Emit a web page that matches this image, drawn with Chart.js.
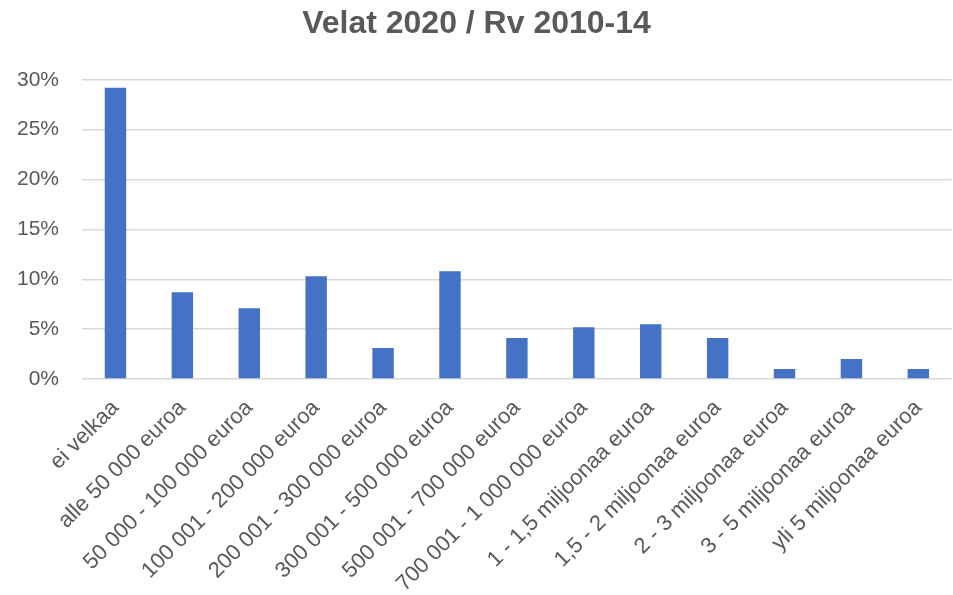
<!DOCTYPE html>
<html>
<head>
<meta charset="utf-8">
<script src="https://cdn.jsdelivr.net/npm/chart.js@4/dist/chart.umd.min.js"></script>
<style>
html,body{margin:0;padding:0;background:#fff;}
#wrap{width:953px;height:595px;position:relative;}
</style>
</head>
<body>
<div id="wrap"><canvas id="c" width="953" height="595"></canvas></div>
<script>
const title = "Velat 2020 / Rv 2010-14";
const categories = [
  "ei velkaa",
  "alle 50 000 euroa",
  "50 000 - 100 000 euroa",
  "100 001 - 200 000 euroa",
  "200 001 - 300 000 euroa",
  "300 001 - 500 000 euroa",
  "500 001 - 700 000 euroa",
  "700 001 - 1 000 000 euroa",
  "1 - 1,5 miljoonaa euroa",
  "1,5 - 2 miljoonaa euroa",
  "2 - 3 miljoonaa euroa",
  "3 - 5 miljoonaa euroa",
  "yli 5 miljoonaa euroa"
];
const shares = [29.2, 8.7, 7.1, 10.3, 3.1, 10.8, 4.1, 5.2, 5.5, 4.1, 1.0, 2.0, 1.0];
const yTicks = [0, 5, 10, 15, 20, 25, 30];

const textColor = "#595959";
const font = "'Liberation Sans', Arial, sans-serif";

new Chart(document.getElementById("c"), {
  type: "bar",
  data: {
    labels: categories,
    datasets: [{
      data: shares,
      backgroundColor: "#4472C4",
      borderWidth: 0,
      categoryPercentage: 1.0,
      barPercentage: 0.32
    }]
  },
  options: {
    responsive: false,
    animation: false,
    layout: { padding: { left: 0, right: 0, top: 0, bottom: 0 } },
    plugins: {
      legend: { display: false },
      tooltip: { enabled: false },
      title: {
        display: true,
        text: title,
        color: textColor,
        font: { family: font, size: 32, weight: "bold", lineHeight: 1.15 },
        padding: { top: 6, bottom: 37 }
      }
    },
    scales: {
      x: {
        grid: { display: false, drawTicks: false },
        border: { display: false },
        ticks: {
          color: textColor,
          font: { family: font, size: 22 },
          maxRotation: 45,
          minRotation: 45,
          autoSkip: false,
          padding: 16
        },
        afterFit: function(s) { s.height = 216; }
      },
      y: {
        min: 0,
        max: 30,
        afterBuildTicks: function(s) { s.ticks = yTicks.map(v => ({ value: v })); },
        grid: { color: "#d9d9d9", lineWidth: 1.5, drawTicks: false },
        border: { display: false },
        ticks: {
          color: textColor,
          font: { family: font, size: 21 },
          padding: 23,
          callback: v => v + "%"
        },
        afterFit: function(s) { s.width = 82; }
      }
    }
  }
});
</script>
</body>
</html>
